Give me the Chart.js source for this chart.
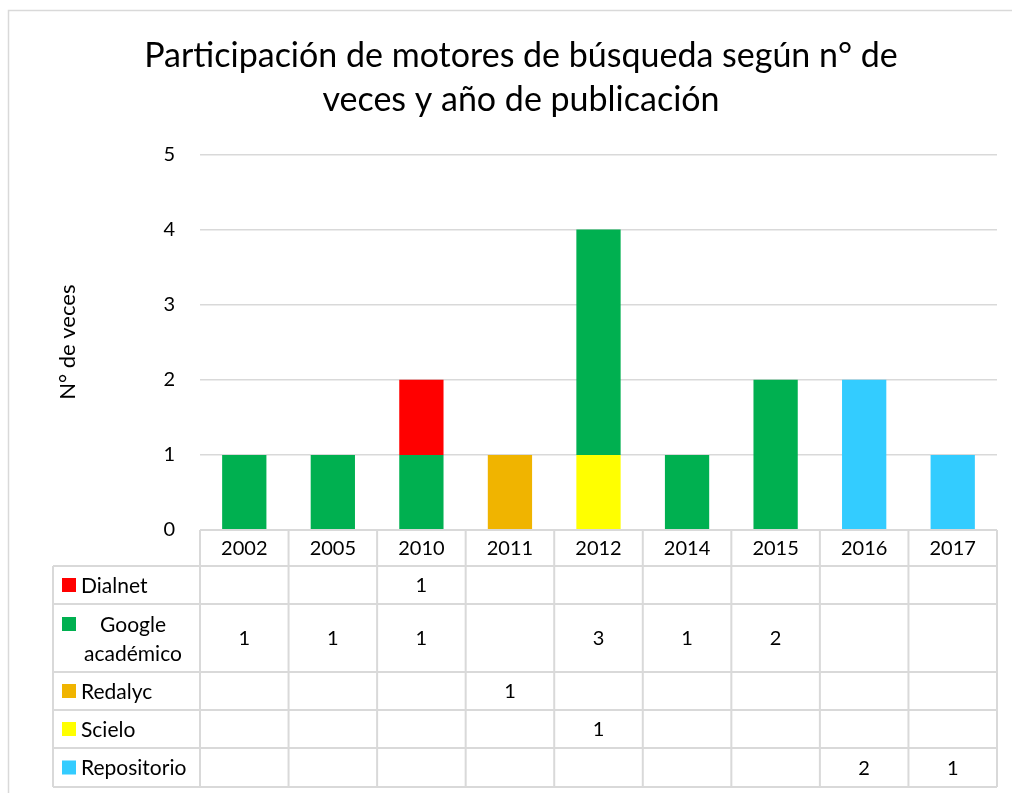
<!DOCTYPE html>
<html>
<head>
<meta charset="utf-8">
<script src="https://cdn.jsdelivr.net/npm/chart.js@4"></script>
<style>
  body { margin: 0; background: #fff; }
  #wrap { width: 1012px; height: 793px; }
</style>
</head>
<body>
<div id="wrap"><canvas id="chart" width="1012" height="793"></canvas></div>
<script>
const years = ['2002', '2005', '2010', '2011', '2012', '2014', '2015', '2016', '2017'];
const seriesNames = ['Dialnet', 'Google académico', 'Redalyc', 'Scielo', 'Repositorio'];
const dialnet = [null, null, 1, null, null, null, null, null, null];
const google = [1, 1, 1, null, 3, 1, 2, null, null];
const redalyc = [null, null, null, 1, null, null, null, null, null];
const scielo = [null, null, null, null, 1, null, null, null, null];
const repositorio = [null, null, null, null, null, null, null, 2, 1];
const seriesColors = ['#FF0000', '#00B050', '#F0B400', '#FFFF00', '#33CCFF'];
const yTicks = [0, 1, 2, 3, 4, 5];

const seriesValues = [dialnet, google, redalyc, scielo, repositorio];
const FONT = 'Lato, Carlito, Calibri, sans-serif';
const GRID = '#d9d9d9';

// Excel stacks the last table row at the bottom, so build datasets reversed
const datasets = seriesNames.map((name, i) => ({
    label: name,
    data: seriesValues[i],
    backgroundColor: seriesColors[i],
    barPercentage: 0.5,
    categoryPercentage: 1
})).reverse();

// data table under the plot, drawn from the x scale positions
const dataTable = {
    id: 'dataTable',
    beforeDraw(chart) {
        const ctx = chart.ctx;
        ctx.save();
        ctx.strokeStyle = GRID;
        ctx.lineWidth = 1.5;
        ctx.strokeRect(8.5, 10.5, 1010, 800);
        ctx.restore();
    },
    afterDraw(chart) {
        const ctx = chart.ctx;
        const x = chart.scales.x;
        const area = chart.chartArea;
        const colW = (area.right - area.left) / years.length;
        const tableLeft = 53;
        const headerTop = area.bottom;
        const headerH = 36;
        const rowHeights = [38, 68, 38, 38, 39];

        ctx.save();
        ctx.strokeStyle = GRID;
        ctx.lineWidth = 2;
        ctx.fillStyle = '#000';
        ctx.textBaseline = 'middle';

        // header row
        ctx.beginPath();
        ctx.moveTo(area.left, headerTop);
        ctx.lineTo(area.right, headerTop);
        for (let i = 0; i <= years.length; i++) {
            const cx = area.left + i * colW;
            ctx.moveTo(cx, headerTop);
            ctx.lineTo(cx, headerTop + headerH);
        }
        ctx.stroke();
        ctx.font = '20px ' + FONT;
        ctx.textAlign = 'center';
        years.forEach((y, i) => {
            ctx.fillText(y, x.getPixelForValue(i), headerTop + headerH / 2 + 1);
        });

        // series rows
        let top = headerTop + headerH;
        const bottom = top + rowHeights.reduce((a, b) => a + b, 0);
        ctx.beginPath();
        ctx.moveTo(tableLeft, top);
        ctx.lineTo(area.right, top);
        let yy = top;
        rowHeights.forEach(h => {
            yy += h;
            ctx.moveTo(tableLeft, yy);
            ctx.lineTo(area.right, yy);
        });
        ctx.moveTo(tableLeft, top);
        ctx.lineTo(tableLeft, bottom);
        for (let i = 0; i <= years.length; i++) {
            const cx = area.left + i * colW;
            ctx.moveTo(cx, top);
            ctx.lineTo(cx, bottom);
        }
        ctx.stroke();

        seriesNames.forEach((name, r) => {
            const h = rowHeights[r];
            const mid = top + h / 2;
            ctx.fillStyle = seriesColors[r];
            ctx.font = '21px ' + FONT;
            if (name === 'Google académico') {
                ctx.fillRect(62, top + 13, 14, 14);
                ctx.fillStyle = '#000';
                ctx.textAlign = 'center';
                ctx.fillText('Google', 133, top + 21);
                ctx.fillText('académico', 133, top + 50);
            } else {
                ctx.fillRect(62, mid - 7, 14, 14);
                ctx.fillStyle = '#000';
                ctx.textAlign = 'left';
                ctx.fillText(name, 81, mid + 1);
            }
            ctx.font = '20px ' + FONT;
            ctx.textAlign = 'center';
            seriesValues[r].forEach((v, i) => {
                if (v !== null) ctx.fillText(String(v), x.getPixelForValue(i), mid + 1);
            });
            top += h;
        });
        ctx.restore();
    }
};

new Chart(document.getElementById('chart'), {
    type: 'bar',
    data: { labels: years, datasets: datasets },
    plugins: [dataTable],
    options: {
        responsive: false,
        animation: false,
        layout: { padding: { left: 45, right: 15, top: 34, bottom: 263 } },
        plugins: {
            legend: { display: false },
            tooltip: { enabled: false },
            title: {
                display: true,
                text: ['Participación de motores de búsqueda según n° de', 'veces y año de publicación'],
                color: '#000',
                font: { family: FONT, size: 34, weight: 'normal', lineHeight: 1.3 },
                padding: { top: 0, bottom: 32 }
            }
        },
        scales: {
            x: {
                stacked: true,
                display: false
            },
            y: {
                stacked: true,
                min: 0,
                max: 5,
                afterFit(scale) { scale.width = 155; },
                afterBuildTicks(scale) { scale.ticks = yTicks.map(v => ({ value: v })); },
                border: { display: false },
                grid: { color: GRID, lineWidth: 1.5, drawTicks: false },
                ticks: {
                    color: '#000',
                    padding: 25,
                    font: { family: FONT, size: 20 }
                },
                title: {
                    display: true,
                    text: 'N° de veces',
                    color: '#000',
                    font: { family: FONT, size: 22 },
                    padding: { top: 10, bottom: 4 }
                }
            }
        }
    }
});
</script>
</body>
</html>
